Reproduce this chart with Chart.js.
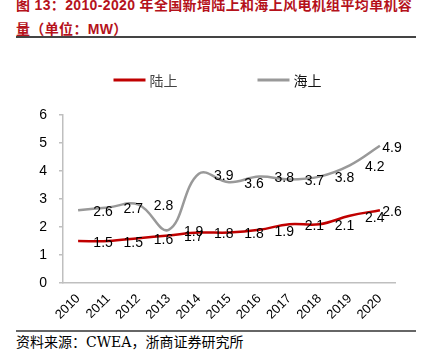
<!DOCTYPE html>
<html>
<head>
<meta charset="utf-8">
<script src="https://cdn.jsdelivr.net/npm/chart.js@4"></script>
<style>
body { margin: 0; width: 425px; height: 358px; background: #fff; position: relative; overflow: hidden; font-family: "Liberation Sans", "Noto Sans CJK SC", sans-serif; }
#titulo { position: absolute; left: 16px; top: -7px; width: 410px; color: #b5121b; font-weight: bold; font-size: 14px; line-height: 24px; letter-spacing: 0.35px; white-space: nowrap; }
#lineaSup { position: absolute; left: 16px; top: 36px; width: 400px; height: 2px; background: #444; }
#lienzo { position: absolute; left: 0; top: 40px; }
#lineaInf { position: absolute; left: 16px; top: 330px; width: 400px; height: 2px; background: #666; }
#fuente { position: absolute; left: 16px; top: 334px; font-family: "DejaVu Serif", "Noto Sans CJK SC", serif; font-size: 14px; line-height: 16px; color: #000; white-space: nowrap; }
</style>
</head>
<body>
<div id="titulo">图 13：2010-2020 年全国新增陆上和海上风电机组平均单机容<br>量（单位：MW）</div>
<div id="lineaSup"></div>
<canvas id="lienzo" width="425" height="290"></canvas>
<div id="lineaInf"></div>
<div id="fuente">资料来源：CWEA，浙商证券研究所</div>
<script>
// Datos
var anios = ['2010', '2011', '2012', '2013', '2014', '2015', '2016', '2017', '2018', '2019', '2020'];
var luShang = [1.5, 1.5, 1.6, 1.7, 1.8, 1.8, 1.9, 2.1, 2.1, 2.4, 2.6];
var haiShang = [2.6, 2.7, 2.8, 1.9, 3.9, 3.6, 3.8, 3.7, 3.8, 4.2, 4.9];
var nombres = ['陆上', '海上'];
var yMin = 0, yMax = 6, yPaso = 1;

// etiquetas de valores a la derecha de cada punto
var etiquetas = {
    id: 'etiquetas',
    afterDatasetsDraw: function (chart) {
        var ctx = chart.ctx;
        ctx.save();
        ctx.font = '14px "Liberation Sans"';
        ctx.fillStyle = '#000';
        ctx.textAlign = 'center';
        ctx.textBaseline = 'middle';
        chart.data.datasets.forEach(function (ds, i) {
            chart.getDatasetMeta(i).data.forEach(function (pt, j) {
                var x = Math.min(pt.x + 25, chart.width - 33);
                ctx.fillText(ds.data[j].toFixed(1), x, pt.y + 2);
            });
        });
        ctx.restore();
    }
};

// leyenda propia (la de Chart.js mete el padding también en vertical)
var leyenda = {
    id: 'leyenda',
    afterDraw: function (chart) {
        var ctx = chart.ctx;
        var y = 40, largo = 32, sep = 4, hueco = 80;
        ctx.save();
        ctx.font = '14px "Noto Sans CJK SC"';
        ctx.textBaseline = 'middle';
        var ds = chart.data.datasets;
        var total = 0;
        ds.forEach(function (d, i) {
            total += largo + sep + ctx.measureText(d.label).width + (i < ds.length - 1 ? hueco : 0);
        });
        var x = (chart.width - total) / 2 + 5;
        ds.forEach(function (d, i) {
            ctx.strokeStyle = d.borderColor;
            ctx.lineWidth = 3;
            ctx.beginPath();
            ctx.moveTo(x, y);
            ctx.lineTo(x + largo, y);
            ctx.stroke();
            x += largo + sep;
            ctx.fillStyle = i === 0 ? '#444' : '#111';
            ctx.fillText(d.label, x, y + 1);
            x += ctx.measureText(d.label).width + hueco;
        });
        ctx.restore();
    }
};

var ctx = document.getElementById('lienzo').getContext('2d');
var grafico = new Chart(ctx, {
    type: 'line',
    data: {
        labels: anios,
        datasets: [{
            label: nombres[0],
            data: luShang,
            borderColor: '#c00000',
            backgroundColor: '#c00000',
            borderWidth: 2.5,
            pointRadius: 0,
            tension: 0.4
        }, {
            label: nombres[1],
            data: haiShang,
            borderColor: '#999999',
            backgroundColor: '#999999',
            borderWidth: 2.5,
            pointRadius: 0,
            tension: 0.4
        }]
    },
    options: {
        responsive: false,
        animation: false,
        layout: { padding: { top: 75, right: 30, left: 0, bottom: 0 } },
        scales: {
            x: {
                offset: true,
                grid: { display: false, drawTicks: false },
                border: { display: true, color: '#bfbfbf', width: 1.5 },
                ticks: { minRotation: 45, maxRotation: 45, padding: 8, color: '#000', font: { family: 'Liberation Sans', size: 13 } },
                afterFit: function (s) { s.height = 47; }
            },
            y: {
                min: yMin,
                max: yMax,
                ticks: { stepSize: yPaso, autoSkip: false, padding: 12, color: '#000', font: { family: 'Liberation Sans', size: 14 } },
                grid: { drawOnChartArea: false, tickLength: 4, color: '#bfbfbf', lineWidth: 1.5 },
                border: { color: '#bfbfbf', width: 1.5 },
                afterFit: function (s) { s.width = 63; }
            }
        },
        plugins: {
            legend: { display: false },
            tooltip: { enabled: false }
        }
    },
    plugins: [etiquetas, leyenda]
});
</script>
</body>
</html>
